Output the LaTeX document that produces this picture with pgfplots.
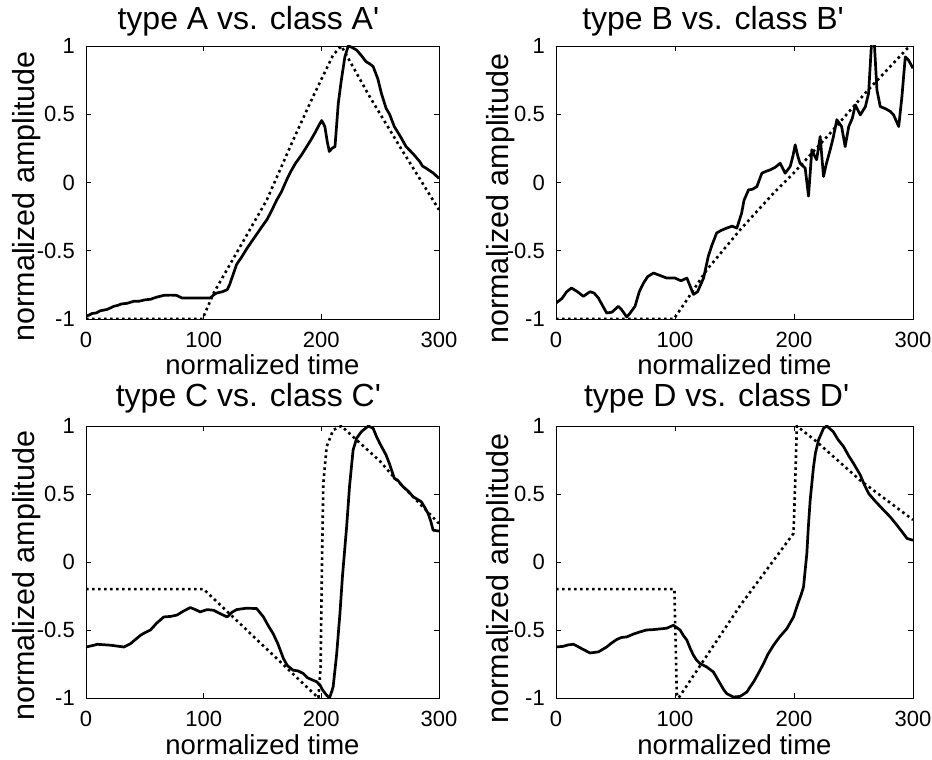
\documentclass[border=0pt]{standalone}
\usepackage{fontspec}
\setmainfont{Liberation Sans}
\newfontfamily\af{Liberation Sans}
\usepackage{pgfplots}
\pgfplotsset{compat=1.18}
\pgfplotsset{
  panel/.style={
    scale only axis, anchor=south west,
    xmin=0, xmax=300, ymin=-1, ymax=1,
    xtick={0,100,200,300}, xticklabels={0,100,200,300},
    ytick={-1,-0.5,0,0.5,1}, yticklabels={-1,-0.5,0,0.5,1},
    tick align=inside, major tick length=5pt,
    tick style={black, line width=0.6pt},
    axis line style={black, line width=0.8pt},
    ticklabel style={font=\af\fontsize{22}{22}\selectfont, inner sep=0pt},
    xticklabel style={anchor=base, yshift=-28.5pt},
    yticklabel style={anchor=east, xshift=-11pt},
    xlabel={normalized time}, ylabel={normalized amplitude},
    xlabel style={font=\af\fontsize{27.5}{27.5}\selectfont, inner sep=0pt, anchor=base},
    ylabel style={font=\af\fontsize{30.5}{30.5}\selectfont, inner sep=0pt, anchor=base},
    title style={font=\af\fontsize{32}{32}\selectfont, anchor=base, inner sep=0pt},
  },
  leftpanel/.style={
    ylabel style={at={(axis description cs:-0.1445,0.449)}},
  },
  rightpanel/.style={
    ylabel style={at={(axis description cs:-0.1317,0.44)}},
  },
  toppanel/.style={
    xlabel style={at={(axis description cs:0.5,-0.2015)}},
  },
  botpanel/.style={
    xlabel style={at={(axis description cs:0.5,-0.206)}},
  },
  solidline/.style={black, line width=2.7pt, line join=round},
  dotline/.style={black, line width=2.6pt, dash pattern=on 2.6pt off 3.4pt},
}
\begin{document}
\begin{tikzpicture}[x=1pt,y=1pt]
\path[use as bounding box] (0,0) rectangle (932,760);
% ---------- A ----------
\begin{axis}[panel, leftpanel, toppanel, at={(86pt,441pt)}, width=353pt, height=273pt, title={type A vs. class A'}, title style={at={(axis description cs:0.46,1.04)}}]
\addplot[dotline] coordinates {(0,-1) (99,-1) (108.5,-0.81) (153.7,-0.127) (176,0.31) (193,0.63) (210,0.934) (217,1) (241,0.63) (266.7,0.263) (300,-0.2)};
\addplot[solidline] coordinates {(0,-0.98) (3,-0.97) (5,-0.96) (9,-0.955) (12,-0.94) (18,-0.93) (23.7,-0.907) (27,-0.90) (30,-0.89) (35,-0.885) (40.7,-0.87) (45,-0.87) (50,-0.86) (55,-0.855) (60,-0.84) (66,-0.827) (72,-0.825) (77,-0.827) (81.6,-0.846) (95,-0.846) (105.6,-0.846) (109,-0.82) (111,-0.81) (116,-0.80) (120,-0.785) (122,-0.75) (124,-0.70) (128,-0.60) (132,-0.55) (137,-0.48) (141,-0.43) (145,-0.38) (149,-0.33) (153.7,-0.273) (157,-0.22) (162,-0.13) (166,-0.07) (170.6,0.02) (174,0.08) (178,0.14) (183,0.2) (187.6,0.263) (191,0.31) (195,0.37) (198,0.42) (200.3,0.454) (203,0.41) (205,0.3) (206.8,0.227) (209,0.25) (211.6,0.263) (213,0.42) (214.4,0.58) (217,0.75) (220,0.92) (222.9,1.0) (226,0.99) (230,0.97) (234,0.93) (238,0.885) (241,0.87) (244,0.85) (248,0.76) (251,0.654) (255,0.544) (258,0.50) (262,0.41) (267,0.34) (272,0.263) (278,0.21) (283.6,0.154) (286,0.12) (289,0.105) (295,0.07) (300,0.03)};
\end{axis}
% ---------- B ----------
\begin{axis}[panel, rightpanel, toppanel, at={(556pt,441pt)}, width=357pt, height=273pt, title={type B vs. class B'}, title style={at={(axis description cs:0.44,1.04)}}]
\addplot[dotline] coordinates {(0,-1) (99,-1) (110,-0.86) (126.7,-0.64) (154.8,-0.346) (182.8,-0.078) (199.6,0.068) (230.4,0.361) (261,0.666) (295,0.98) (298,1)};
\addplot[solidline] coordinates {(0,-0.883) (5,-0.85) (9,-0.80) (13,-0.773) (18,-0.80) (23,-0.834) (28.6,-0.80) (32,-0.81) (35.6,-0.846) (39,-0.90) (42.6,-0.956) (47,-0.95) (52.4,-0.907) (55,-0.93) (59.4,-0.985) (62,-0.96) (66.4,-0.907) (70,-0.80) (73.5,-0.737) (77,-0.69) (81.9,-0.663) (87,-0.68) (93,-0.70) (100,-0.70) (105,-0.72) (110,-0.70) (115.5,-0.82) (119,-0.80) (124,-0.70) (128,-0.54) (131,-0.46) (135,-0.37) (139,-0.35) (143.5,-0.334) (148,-0.32) (152,-0.334) (156,-0.224) (158,-0.13) (161.8,-0.054) (165,-0.05) (168.8,-0.03) (173,0.068) (176,0.08) (180,0.093) (184,0.11) (188.4,0.141) (192.6,0.068) (196.8,0.117) (199,0.19) (201,0.276) (203,0.2) (205,0.141) (209.4,0.105) (212.2,-0.10) (215,0.24) (217,0.2) (219,0.166) (222,0.337) (224.8,0.044) (227,0.13) (230.4,0.24) (233,0.33) (236,0.46) (240,0.41) (243,0.263) (246,0.41) (249,0.47) (251.5,0.568) (255.7,0.495) (260,0.556) (262.7,0.654) (265,1.0) (266,1.2) (267,1.1) (269.7,0.678) (272.5,0.556) (277,0.54) (281,0.52) (283.7,0.495) (288,0.41) (290.7,0.63) (293.5,0.92) (296,0.90) (300,0.837)};
\end{axis}
% ---------- C ----------
\begin{axis}[panel, leftpanel, botpanel, at={(86pt,62pt)}, width=353pt, height=272pt, title={type C vs. class C'}, title style={at={(axis description cs:0.46,1.051)}}]
\addplot[dotline] coordinates {(0,-0.2) (100,-0.2) (197.5,-1) (199.4,-0.77) (200.6,0.013) (201.7,0.578) (204.5,0.848) (210,0.97) (217,1) (230,0.897) (250,0.74) (261,0.63) (300,0.283)};
\addplot[solidline] coordinates {(0,-0.625) (6.8,-0.612) (9.6,-0.605) (21,-0.612) (32.2,-0.625) (37.9,-0.60) (42,-0.57) (46.3,-0.539) (50,-0.52) (54.8,-0.50) (60,-0.45) (66.1,-0.404) (72,-0.40) (77.4,-0.39) (83,-0.36) (88.7,-0.335) (93,-0.35) (97,-0.367) (103,-0.35) (108.5,-0.355) (114,-0.38) (120,-0.404) (124,-0.37) (128,-0.35) (136,-0.34) (145,-0.342) (150.8,-0.404) (155,-0.47) (159,-0.526) (163,-0.6) (167.8,-0.71) (171,-0.76) (176,-0.796) (180,-0.80) (184.7,-0.82) (188,-0.85) (193,-0.87) (196,-0.88) (199,-0.907) (201,-0.94) (204.5,-0.98) (207,-1.0) (210,-0.92) (213,-0.68) (215.8,-0.38) (218,-0.1) (221.5,0.259) (224,0.56) (227,0.823) (230,0.91) (234,0.958) (240,1.0) (244,0.983) (247,0.92) (249.7,0.872) (255,0.787) (258,0.72) (262,0.615) (265,0.6) (269.5,0.553) (274,0.52) (278,0.48) (285,0.443) (288,0.40) (290.7,0.357) (293,0.3) (295,0.234) (300,0.227)};
\end{axis}
% ---------- D ----------
\begin{axis}[panel, rightpanel, botpanel, at={(556pt,62pt)}, width=357pt, height=272pt, title={type D vs. class D'}, title style={at={(axis description cs:0.45,1.051)}}]
\addplot[dotline] coordinates {(0,-0.2) (99.5,-0.2) (101.5,-0.97) (103,-1) (154.8,-0.32) (199.6,0.21) (201,0.578) (202.4,1.0) (219,0.885) (255.7,0.6) (300,0.31)};
\addplot[solidline] coordinates {(0,-0.625) (6.2,-0.62) (10,-0.61) (14.6,-0.605) (18,-0.62) (21.6,-0.637) (28.6,-0.669) (35.6,-0.661) (42.6,-0.625) (46,-0.60) (51,-0.57) (55,-0.555) (59.4,-0.551) (65,-0.53) (70.6,-0.514) (76,-0.50) (81.9,-0.497) (93,-0.487) (98.7,-0.465) (104.3,-0.50) (107,-0.54) (110,-0.575) (113,-0.64) (115.5,-0.686) (118,-0.72) (121,-0.747) (126.7,-0.772) (132.3,-0.809) (135,-0.85) (138,-0.895) (141,-0.94) (143.5,-0.968) (149,-0.993) (154.8,-0.988) (160.4,-0.956) (163,-0.92) (166,-0.882) (170,-0.82) (174.4,-0.747) (178,-0.68) (182.8,-0.612) (188,-0.55) (194,-0.49) (199.6,-0.404) (202,-0.34) (203.8,-0.293) (206,-0.24) (208,-0.183) (209.5,-0.05) (210.8,0.063) (212,0.25) (213.6,0.455) (216.4,0.70) (218,0.80) (220.6,0.897) (224.8,0.983) (227.6,1.0) (233,0.958) (237,0.9) (241.7,0.848) (246,0.78) (250,0.725) (255.7,0.64) (259,0.57) (262.7,0.504) (268,0.45) (275.3,0.382) (281,0.33) (286.5,0.271) (291,0.22) (295,0.173) (300,0.16)};
\end{axis}
\end{tikzpicture}
\end{document}
